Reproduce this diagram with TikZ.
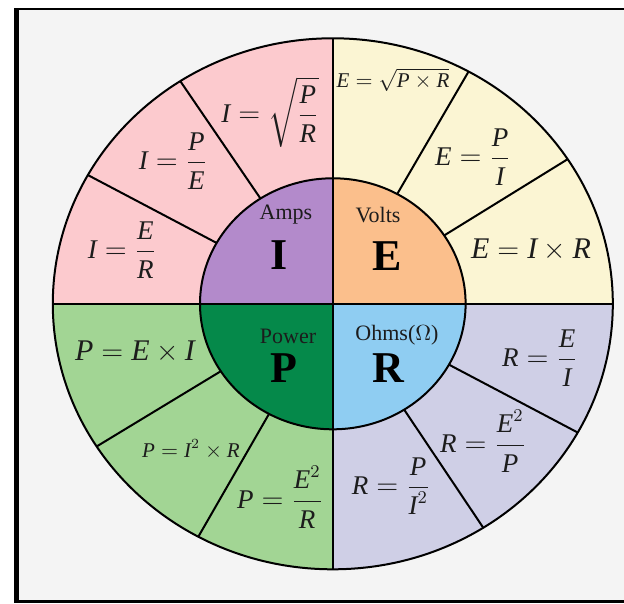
\documentclass[tikz,border=0pt]{standalone}
\usepackage{amsmath}
\usepackage{fontspec}
\setmainfont{Liberation Serif}
\usetikzlibrary{calc}
\definecolor{rosa}{HTML}{FCCACE}
\definecolor{crema}{HTML}{FBF5D3}
\definecolor{lila}{HTML}{CFCFE6}
\definecolor{verde}{HTML}{A2D594}
\definecolor{morado}{HTML}{B38ACB}
\definecolor{durazno}{HTML}{FBBF8C}
\definecolor{pino}{HTML}{05894A}
\definecolor{celeste}{HTML}{8FCDF2}
\definecolor{fondo}{HTML}{F4F4F4}
\definecolor{tinta}{HTML}{1C1C1C}
\newcommand{\letra}[1]{\textit{#1}}
\newcommand{\pcx}{332.8}
\newcommand{\pcy}{303.8}

\begin{document}
\begin{tikzpicture}[x=0.5pt, y=-0.5pt, line width=1pt,
    formula/.style={inner sep=0pt, text=tinta, font=\fontsize{13.5}{16}\selectfont},
    grande/.style={formula, font=\fontsize{15}{18}\selectfont},
    chica/.style={formula, font=\fontsize{10.5}{13}\selectfont},
    unidad/.style={inner sep=0pt, text=tinta, font=\fontsize{11}{13}\selectfont},
    simbolo/.style={inner sep=0pt, text=black, font=\fontsize{22}{26}\selectfont\bfseries},
    exterior/.style={x radius=140pt, y radius=132.75pt},
    interior/.style={x radius=66.4pt, y radius=62.75pt}]
    \useasboundingbox (0,0) rectangle (624,603);
    \fill[white] (0,0) rectangle (624,603);
    \fill[fondo] (16,9) rectangle (624,601.5);
    % marco
    \draw[line width=1.2pt] (14,9) -- (624,9);
    \draw[line width=1.2pt] (14,601.5) -- (624,601.5);
    \draw[line width=2.5pt] (16.5,8.4) -- (16.5,602.1);

    \coordinate (centro) at (\pcx,\pcy);
    % cuadrantes exteriores
    \begin{scope}
      \clip (centro) ellipse [exterior];
      \fill[rosa] (0,0) rectangle (centro);
      \fill[crema] (624,0) rectangle (centro);
      \fill[verde] (0,603) rectangle (centro);
      \fill[lila] (624,603) rectangle (centro);
    \end{scope}
    % cuadrantes interiores
    \begin{scope}
      \clip (centro) ellipse [interior];
      \fill[morado] (0,0) rectangle (centro);
      \fill[durazno] (624,0) rectangle (centro);
      \fill[pino] (0,603) rectangle (centro);
      \fill[celeste] (624,603) rectangle (centro);
    \end{scope}
    \draw (centro) ellipse [exterior];
    \draw (centro) ellipse [interior];
    \draw (\pcx-280,\pcy) -- (\pcx+280,\pcy);
    \draw (\pcx,\pcy-265.5) -- (\pcx,\pcy+265.5);
    \foreach \a in {151,123,61,33,-29,-57.5,212.5,241.3} {
      \draw ({\pcx+132.8*cos(\a)},{\pcy-125.5*sin(\a)}) -- ({\pcx+280*cos(\a)},{\pcy-265.5*sin(\a)});
    }

    % centro
    \node[unidad] (amps) at (286,215) {Amps};
    \node[simbolo] (letI) at (279,255) {I};
    \node[unidad] (volts) at (378,215) {Volts};
    \node[simbolo] (letE) at (387,256) {E};
    \node[unidad] (power) at (288,336) {Power};
    \node[simbolo] (letP) at (284,368) {P};
    \node[unidad] (ohms) at (397,335) {Ohms($\Omega$)};
    \node[simbolo] (letR) at (388,368) {R};

    % corriente
    \node[formula] (iRaiz) at (270,112) {$\letra{I}=\sqrt{\dfrac{\letra{P}}{\letra{R}}}$};
    \node[formula] (iPE) at (173,161) {$\letra{I}=\dfrac{\letra{P}}{\letra{E}}$};
    \node[formula] (iER) at (122,250) {$\letra{I}=\dfrac{\letra{E}}{\letra{R}}$};
    % tension
    \node[chica] (eRaiz) at (393,80) {$\letra{E}=\sqrt{\letra{P}\times\letra{R}}$};
    \node[formula] (ePI) at (473,157) {$\letra{E}=\dfrac{\letra{P}}{\letra{I}}$};
    \node[grande] (eIR) at (531,250) {$\letra{E}=\letra{I}\times\letra{R}$};
    % potencia
    \node[grande] (pEI) at (135,352) {$\letra{P}=\letra{E}\times\letra{I}$};
    \node[chica] (pIR) at (191,449) {$\letra{P}=\letra{I}^2\times\letra{R}$};
    \node[formula] (pER) at (280,497) {$\letra{P}=\dfrac{\letra{E}^2}{\letra{R}}$};
    % resistencia
    \node[formula] (rEI) at (540,358) {$\letra{R}=\dfrac{\letra{E}}{\letra{I}}$};
    \node[formula] (rEP) at (483,441) {$\letra{R}=\dfrac{\letra{E}^2}{\letra{P}}$};
    \node[formula] (rPI) at (391,486) {$\letra{R}=\dfrac{\letra{P}}{\letra{I}^2}$};
\end{tikzpicture}
\end{document}
